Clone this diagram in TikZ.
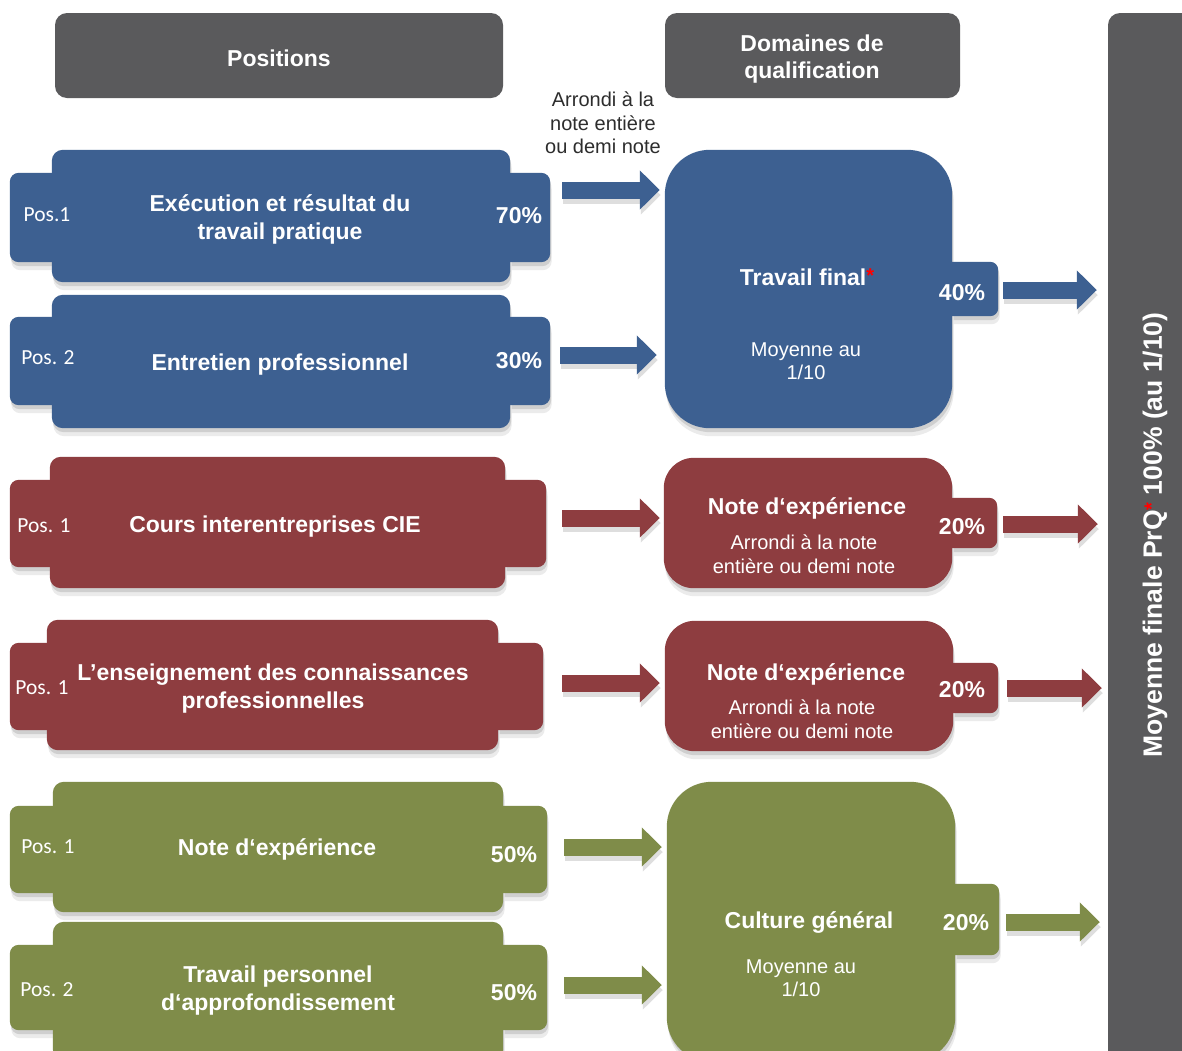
\documentclass[tikz,border=0pt]{standalone}
\usepackage{fontspec}
\setmainfont{Liberation Sans}
\newfontfamily\posfont{Carlito}
\usetikzlibrary{arrows.meta,calc}
\pgfdeclarelayer{shadowl}
\pgfdeclarelayer{bg}
\pgfsetlayers{shadowl,bg,main}
\definecolor{cblue}{RGB}{61,96,145}
\definecolor{cred}{RGB}{142,61,64}
\definecolor{cgreen}{RGB}{127,140,73}
\definecolor{cgray}{RGB}{90,90,92}
\definecolor{ctext}{RGB}{45,45,45}
\newcommand\ttlfont{\fontsize{23}{28}\selectfont\bfseries}
\newcommand\subfont{\fontsize{20}{23.5}\selectfont}
\newcommand\posfnt{\posfont\fontsize{21.5}{26}\selectfont}
\newcommand\redstar{\raisebox{3.5pt}{\textcolor{red}{\fontsize{20}{20}\selectfont *}}}
\newcommand\blockarrow[4][]{%
  \draw[barrow,#1,draw=black!13] ($(#3)+(1,5)$) -- ($(#4)+(1,5)$);
  \draw[barrow,#1,draw=#2] (#3) -- (#4);}
% #1 colour, #2 path options, #3 path
\newcommand\shapefill[3]{%
  \begin{pgfonlayer}{shadowl}
    \fill[black!8, #2, transform canvas={yshift=-8pt,xshift=1.5pt}] #3;
    \fill[black!19, #2, transform canvas={yshift=-4pt,xshift=1pt}] #3;
  \end{pgfonlayer}
  \begin{pgfonlayer}{bg}
    \fill[#1, #2] #3;
  \end{pgfonlayer}}
\newcommand\rectpath[1]{(#1.north west) rectangle (#1.south east)}
\tikzset{
  hdr/.style={rectangle, rounded corners=12pt, fill=cgray, inner sep=0pt},
  geo/.style={rectangle, inner sep=0pt},
  ttl/.style={text=white, font=\ttlfont, align=center, inner sep=0pt},
  sub/.style={text=white, font=\subfont, align=center, inner sep=0pt},
  pct/.style={text=white, font=\ttlfont, inner sep=0pt},
  poslbl/.style={text=white, font=\posfnt, inner sep=0pt},
  note/.style={text=ctext, font=\subfont, align=center, inner sep=0pt},
  barrow/.style={line width=17pt, -{Triangle[length=20pt,width=38pt]}},
}
\begin{document}
\begin{tikzpicture}[x=1pt,y=-1pt]
\useasboundingbox (0,0) rectangle (1182,1050);
\begin{pgfonlayer}{shadowl}
\fill[white] (0,0) rectangle (1182,1050);
\end{pgfonlayer}

% headers and final bar
\node[hdr, minimum width=448pt, minimum height=85pt] (hpos) at (279,55.5) {};
\node[ttl] (hposx) at (279,58) {Positions};
\node[hdr, minimum width=295pt, minimum height=85pt] (hdom) at (812.5,55.5) {};
\node[ttl, font=\fontsize{23}{27}\selectfont\bfseries] (hdomx) at (812,59) {Domaines de\\qualification};
\node[rectangle, rounded corners=12pt, fill=cgray, minimum width=102pt, minimum height=1067pt] (bar) at (1159,546.5) {};
\node[text=white, font=\fontsize{26.5}{30}\selectfont\bfseries, rotate=90, inner sep=0pt] (bart) at (1155,535) {Moyenne finale PrQ\redstar{} 100\% (au 1/10)};

\node[note] (arr) at (603,123) {Arrondi à la\\note entière\\ou demi note};

% ---------- blue rows
\node[geo, minimum width=540pt, minimum height=89pt] (p1w) at (280,217.5) {};
\node[geo, minimum width=458pt, minimum height=132pt] (p1) at (281,216) {};
\shapefill{cblue}{rounded corners=9pt}{\rectpath{p1w}}
\shapefill{cblue}{rounded corners=11pt}{\rectpath{p1}}
\node[ttl] (p1x) at (280,219.5) {Exécution et résultat du\\travail pratique};
\node[poslbl] (p1l) at (47,215) {Pos.1};
\node[pct] (p1p) at (519,216) {70\%};

\node[geo, minimum width=540pt, minimum height=88pt] (p2w) at (280,361) {};
\node[geo, minimum width=458pt, minimum height=133pt] (p2) at (281,361.5) {};
\shapefill{cblue}{rounded corners=9pt}{\rectpath{p2w}}
\shapefill{cblue}{rounded corners=11pt}{\rectpath{p2}}
\node[ttl] (p2x) at (280,364.5) {Entretien professionnel};
\node[poslbl] (p2l) at (48,358) {Pos. 2};
\node[pct] (p2p) at (519,361) {30\%};

\node[geo, minimum width=58pt, minimum height=54pt] (tft) at (969,289) {};
\node[geo, minimum width=287pt, minimum height=278pt] (tf) at (808.5,289) {};
\shapefill{cblue}{rounded corners=8pt}{\rectpath{tft}}
\shapefill{cblue}{rounded corners=45pt}{\rectpath{tf}}
\node[ttl] (tfl) at (807,277) {Travail final\redstar};
\node[sub] (tfs) at (806,361) {Moyenne au\\1/10};
\node[pct] (tfp) at (962,293) {40\%};

% ---------- red rows
\node[geo, minimum width=536pt, minimum height=87pt] (p3w) at (278,523.5) {};
\node[geo, minimum width=455pt, minimum height=131pt] (p3) at (277.5,522.5) {};
\shapefill{cred}{rounded corners=9pt}{\rectpath{p3w}}
\shapefill{cred}{rounded corners=11pt}{\rectpath{p3}}
\node[ttl] (p3x) at (275,526.5) {Cours interentreprises CIE};
\node[poslbl] (p3l) at (44,526) {Pos. 1};

\node[geo, minimum width=57pt, minimum height=50pt] (n1t) at (968.5,523) {};
\node[geo, minimum width=288pt, minimum height=130pt] (n1) at (808,523) {};
\shapefill{cred}{rounded corners=8pt}{\rectpath{n1t}}
\shapefill{cred}{rounded corners=30pt}{\rectpath{n1}}
\node[ttl] (n1l) at (807,508.5) {Note d‘expérience};
\node[sub] (n1s) at (804,554) {Arrondi à la note\\entière ou demi note};
\node[pct] (n1p) at (962,527) {20\%};

\node[geo, minimum width=533pt, minimum height=87pt] (p4w) at (276.5,686.5) {};
\node[geo, minimum width=451pt, minimum height=130pt] (p4) at (272.5,685) {};
\shapefill{cred}{rounded corners=9pt}{\rectpath{p4w}}
\shapefill{cred}{rounded corners=11pt}{\rectpath{p4}}
\node[ttl] (p4x) at (273,688.5) {L’enseignement des connaissances\\professionnelles};
\node[poslbl] (p4l) at (42,688) {Pos. 1};

\node[geo, minimum width=58pt, minimum height=50pt] (n2t) at (969,688) {};
\node[geo, minimum width=288pt, minimum height=130pt] (n2) at (809,686) {};
\shapefill{cred}{rounded corners=8pt}{\rectpath{n2t}}
\shapefill{cred}{rounded corners=30pt}{\rectpath{n2}}
\node[ttl] (n2l) at (806,674.5) {Note d‘expérience};
\node[sub] (n2s) at (802,719) {Arrondi à la note\\entière ou demi note};
\node[pct] (n2p) at (962,690) {20\%};

% ---------- green rows
\node[geo, minimum width=537pt, minimum height=87pt] (p5w) at (278.5,849.5) {};
\node[geo, minimum width=450pt, minimum height=130pt] (p5) at (278,847) {};
\shapefill{cgreen}{rounded corners=9pt}{\rectpath{p5w}}
\shapefill{cgreen}{rounded corners=11pt}{\rectpath{p5}}
\node[ttl] (p5x) at (277,849.5) {Note d‘expérience};
\node[poslbl] (p5l) at (48,847) {Pos. 1};
\node[pct] (p5p) at (514,855) {50\%};

\node[geo, minimum width=537pt, minimum height=85pt] (p6w) at (278.5,987.5) {};
\node[geo, minimum width=450pt, minimum height=138pt] (p6) at (278,991) {};
\shapefill{cgreen}{rounded corners=9pt}{\rectpath{p6w}}
\shapefill{cgreen}{rounded corners=11pt}{\rectpath{p6}}
\node[ttl] (p6x) at (278,990.5) {Travail personnel\\d‘approfondissement};
\node[poslbl] (p6l) at (47,990) {Pos. 2};
\node[pct] (p6p) at (514,993) {50\%};

\node[geo, minimum width=59pt, minimum height=71pt] (cgt) at (969.5,919.5) {};
\node[geo, minimum width=288pt, minimum height=280pt] (cg) at (811,922) {};
\shapefill{cgreen}{rounded corners=8pt}{\rectpath{cgt}}
\shapefill{cgreen}{rounded corners=45pt}{\rectpath{cg}}
\node[ttl] (cgl) at (809,922.5) {Culture général};
\node[sub] (cgs) at (801,978) {Moyenne au\\1/10};
\node[pct] (cgp) at (966,923) {20\%};

% ---------- arrows
\blockarrow[shorten <=12pt, shorten >=5pt]{cblue}{p1w.east |- 0,190}{tf.west |- 0,190}
\blockarrow[shorten <=10pt, shorten >=8pt]{cblue}{p2w.east |- 0,355}{tf.west |- 0,355}
\blockarrow[shorten <=5pt, shorten >=11pt]{cblue}{tft.east |- 0,290}{bar.west |- 0,290}
\blockarrow[shorten <=16pt, shorten >=4pt]{cred}{p3w.east |- 0,518}{n1.west |- 0,518}
\blockarrow[shorten <=6pt, shorten >=10pt]{cred}{n1t.east |- 0,524}{bar.west |- 0,524}
\blockarrow[shorten <=19pt, shorten >=5pt]{cred}{p4w.east |- 0,683}{n2.west |- 0,683}
\blockarrow[shorten <=9pt, shorten >=6pt]{cred}{n2t.east |- 0,688}{bar.west |- 0,688}
\blockarrow[shorten <=17pt, shorten >=5pt]{cgreen}{p5w.east |- 0,847}{cg.west |- 0,847}
\blockarrow[shorten <=17pt, shorten >=5pt]{cgreen}{p6w.east |- 0,985}{cg.west |- 0,985}
\blockarrow[shorten <=7pt, shorten >=8pt]{cgreen}{cgt.east |- 0,922}{bar.west |- 0,922}
\end{tikzpicture}
\end{document}
